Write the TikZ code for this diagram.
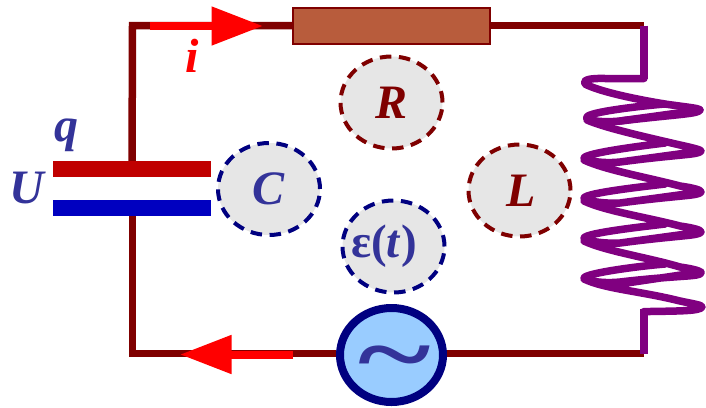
\documentclass[tikz,border=0pt]{standalone}
\usepackage{fontspec}
\setmainfont{Liberation Serif}
\usetikzlibrary{arrows.meta,shapes.geometric}
\definecolor{wire}{HTML}{7F0000}
\definecolor{coilc}{HTML}{800080}
\definecolor{capr}{HTML}{C00000}
\definecolor{capb}{HTML}{0000C0}
\definecolor{navy}{HTML}{000080}
\definecolor{txt}{HTML}{333399}
\definecolor{resf}{HTML}{B85C3C}
\definecolor{acf}{HTML}{99CCFF}
\definecolor{disc}{HTML}{E6E6E6}
\tikzset{
 wireline/.style={draw=wire,line width=7.5pt},
 coilline/.style={draw=coilc,line width=7.5pt,line cap=round,line join=round},
 current/.style={draw=red,line width=8pt,-{Triangle[length=51.5pt,width=37pt]}},
 plate/.style={minimum width=158pt,minimum height=16pt,inner sep=0pt,outer sep=0pt},
 badge/.style={ellipse,fill=disc,minimum width=102pt,minimum height=92pt,inner sep=0pt,line width=4pt,dash pattern=on 11.5pt off 7.6pt,font=\fontsize{48}{48}\selectfont\bfseries\itshape},
 lab/.style={font=\fontsize{48}{48}\selectfont\bfseries\itshape,inner sep=0pt,text=txt},
}
\begin{document}
\begin{tikzpicture}[x=1pt,y=-1pt]
\useasboundingbox (0,0) rectangle (706,407);
% named anchor points
\coordinate (tl) at (132.5,25.5);
\coordinate (tr) at (644,25.5);
\coordinate (bl) at (132.5,353.5);
\coordinate (br) at (644,353.5);
\coordinate (ca) at (150,26);
\coordinate (cb) at (263,26);
\coordinate (da) at (293,354.5);
\coordinate (db) at (180,354.5);
\coordinate (ct) at (644,78.5);
\coordinate (cbm) at (644,309);
% components
\node[plate,fill=capr] (pt) at (132,169) {};
\node[plate,fill=capb] (pb) at (132,208) {};
\node[draw=wire,fill=resf,line width=2pt,minimum width=197pt,minimum height=36pt,inner sep=0pt] (res) at (391.5,25.5) {};
\node[ellipse,draw=navy,fill=acf,line width=8pt,minimum width=103pt,minimum height=94pt,inner sep=0pt] (ac) at (391.5,355) {};
% wires
\draw[wireline,line cap=butt] (pt.center) -- (tl) -- (res.west |- tl);
\draw[wireline] (res.east |- tr) -- (tr);
\draw[wireline] (pb.south -| bl) -- (bl) -- (ac.west |- bl);
\draw[wireline] (ac.east |- br) -- (br);
\node[plate,fill=capr] at (pt) {};
\draw[current] (ca) -- (cb);
\draw[current] (da) -- (db);
% coil
\draw[coilc,line width=7.5pt] (tr) -- (ct);
\draw[coilc,line width=7.5pt] (cbm) -- (br);
\draw[coilline]
 (ct) -- (605,78.5)
 .. controls (590,78) and (582,80) .. (585,84)
 .. controls (600,92) and (640,100) .. (665,104)
 .. controls (685,107) and (699,108) .. (700,110)
 .. controls (698,114) and (680,114) .. (620,121)
 .. controls (600,123) and (584,120) .. (587,117)
 .. controls (589,112) and (640,106) .. (665,104);
\draw[coilline]
 (620,121) -- (700,110)
 (587,120) .. controls (605,128) and (650,138) .. (680,145)
 .. controls (694,148) and (701,150) .. (701,151)
 .. controls (699,155) and (680,154) .. (620,162)
 .. controls (600,164) and (584,160) .. (584,158)
 .. controls (586,153) and (640,146) .. (665,143)
 (620,162) -- (701,151)
 (584,160) .. controls (605,170) and (650,178) .. (680,186)
 .. controls (694,188) and (701,190) .. (701,192)
 .. controls (699,196) and (680,195) .. (620,203)
 .. controls (600,204) and (584,200) .. (584,198)
 .. controls (586,193) and (640,187) .. (665,184)
 (620,203) -- (701,192)
 (584,201) .. controls (605,211) and (650,218) .. (680,226)
 .. controls (694,228) and (701,230) .. (701,232)
 .. controls (699,236) and (680,235) .. (620,243)
 .. controls (600,244) and (584,240) .. (584,238)
 .. controls (586,233) and (640,227) .. (665,224)
 (620,243) -- (701,232)
 (584,241) .. controls (605,251) and (650,258) .. (680,267)
 .. controls (694,269) and (701,271) .. (701,273)
 .. controls (699,277) and (680,275) .. (620,282)
 .. controls (600,284) and (584,280) .. (584,278)
 .. controls (586,273) and (640,266) .. (665,264)
 (620,284) -- (701,272)
 (584,279) .. controls (605,289) and (640,291) .. (680,301)
 .. controls (694,304) and (702,305) .. (702,307)
 .. controls (700,311) and (680,311) .. (650,311.5) -- (644,311.5);
% symbol on the source
\node[text=txt,font=\fontsize{96}{96}\selectfont\bfseries,inner sep=0pt] (tilde) at (394.5,366) {\scalebox{1.45}[1]{\char126}};
% badges
\node[badge,draw=wire,text=wire] (bR) at (391.5,102.5) {R};
\node[badge,draw=navy,text=txt] (bC) at (269,189) {C};
\node[badge,draw=wire,text=wire] (bL) at (519.5,190.5) {\makebox[0pt][c]{\hspace*{4pt}L}};
\node[badge,draw=navy,text=txt,font=\fontsize{47}{47}\selectfont\bfseries] (bE) at (393.5,246.5) {\makebox[0pt][c]{ε(\textit{t})\hspace*{19pt}}};
% labels
\node[lab,text=red] (li) at (192,56) {i};
\node[lab] (lq) at (66,135) {q};
\node[lab] (lU) at (27,188) {U};
\end{tikzpicture}
\end{document}
